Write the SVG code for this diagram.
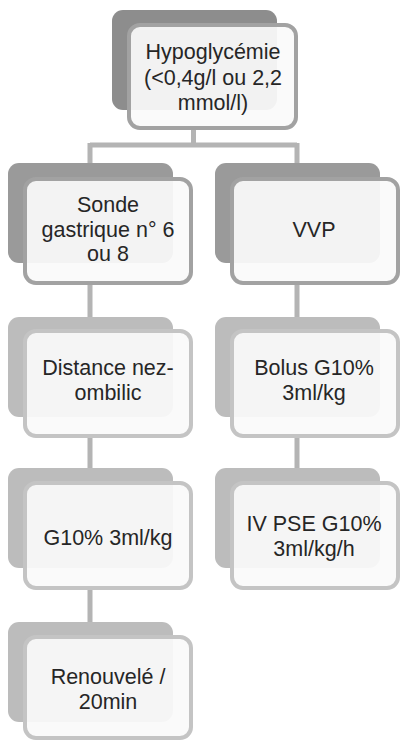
<svg xmlns="http://www.w3.org/2000/svg" width="401" height="741" viewBox="0 0 401 741">
<style>
.bk1{fill:#8d8d8d}
.bk2{fill:#9a9a9a}
.bk3{fill:#bcbcbc}
.fr1{fill:#fafafa;fill-opacity:0.93;stroke:#a2a2a2;stroke-width:4}
.fr2{fill:#fafafa;fill-opacity:0.93;stroke:#c4c4c4;stroke-width:4}
.cn{fill:none;stroke:#b4b4b4;stroke-width:5}
text{font-family:"Liberation Sans",Arial,sans-serif;font-size:21.5px;fill:#262626;text-anchor:middle}
</style>
<g id="connectors">
<path class="cn" d="M193.5,128 V145 M90,145 H297 M90,143 V165 M297,143 V165"/>
<path class="cn" d="M90,284 V319 M90,437 V470 M90,589 V624"/>
<path class="cn" d="M297,284 V319 M297,437 V470"/>
</g>
<g id="n0">
<rect class="bk1" x="112" y="10" width="165" height="100" rx="11"/>
<rect class="fr1" x="129" y="25" width="167" height="103" rx="11"/>
<text x="213" y="59">Hypoglycémie</text>
<text x="213" y="85">(&lt;0,4g/l ou 2,2</text>
<text x="213" y="110">mmol/l)</text>
</g>
<g id="n1">
<rect class="bk2" x="8" y="163" width="165" height="100" rx="11"/>
<rect class="fr1" x="25" y="179" width="166" height="104" rx="11"/>
<text x="108" y="212">Sonde</text>
<text x="108" y="237">gastrique n° 6</text>
<text x="108" y="261">ou 8</text>
</g>
<g id="n2">
<rect class="bk2" x="215" y="163" width="165" height="100" rx="11"/>
<rect class="fr1" x="232" y="179" width="166" height="104" rx="11"/>
<text x="314" y="237">VVP</text>
</g>
<g id="n3">
<rect class="bk3" x="8" y="317" width="165" height="100" rx="11"/>
<rect class="fr2" x="25" y="331" width="166" height="105" rx="11"/>
<text x="108" y="375">Distance nez-</text>
<text x="108" y="400">ombilic</text>
</g>
<g id="n4">
<rect class="bk3" x="215" y="317" width="165" height="100" rx="11"/>
<rect class="fr2" x="232" y="331" width="166" height="105" rx="11"/>
<text x="314" y="375">Bolus G10%</text>
<text x="314" y="400">3ml/kg</text>
</g>
<g id="n5">
<rect class="bk3" x="8" y="468" width="165" height="100" rx="11"/>
<rect class="fr2" x="25" y="483" width="166" height="105" rx="11"/>
<text x="108" y="545">G10% 3ml/kg</text>
</g>
<g id="n6">
<rect class="bk3" x="215" y="468" width="165" height="100" rx="11"/>
<rect class="fr2" x="232" y="483" width="166" height="105" rx="11"/>
<text x="314" y="531">IV PSE G10%</text>
<text x="314" y="556">3ml/kg/h</text>
</g>
<g id="n7">
<rect class="bk3" x="8" y="622" width="165" height="100" rx="11"/>
<rect class="fr2" x="25" y="637" width="166" height="101" rx="11"/>
<text x="108" y="684">Renouvelé /</text>
<text x="108" y="709">20min</text>
</g>
</svg>
